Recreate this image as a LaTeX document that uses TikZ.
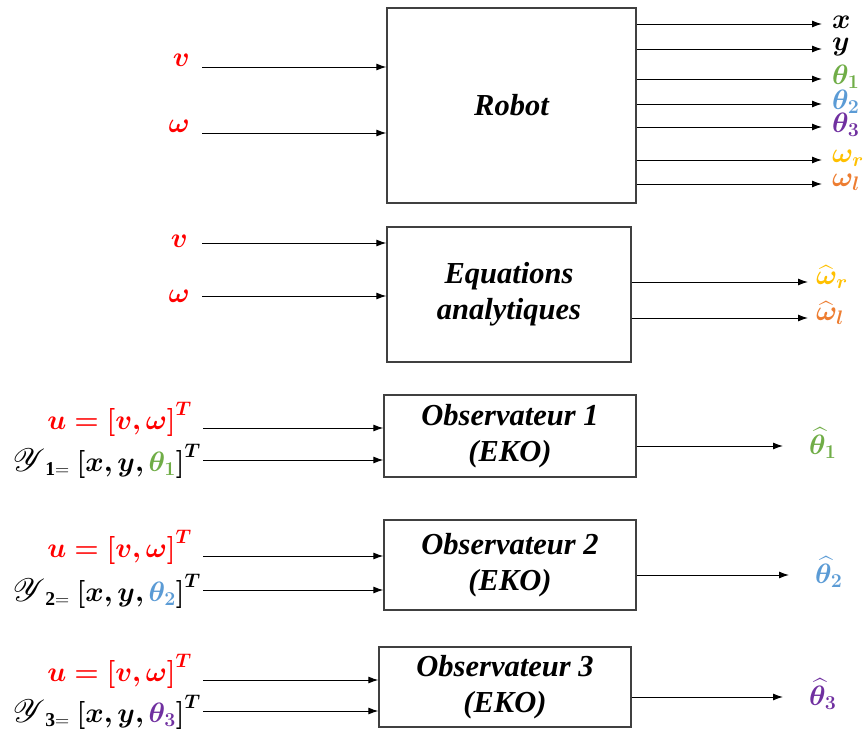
\documentclass[tikz,border=0pt]{standalone}
\usepackage{fix-cm}
\usepackage{amsmath,bm,mathrsfs}
\usepackage{fontspec}
\setmainfont{Liberation Serif}
\usetikzlibrary{arrows.meta,positioning}
\definecolor{cred}{HTML}{FF0000}
\definecolor{cgreen}{HTML}{70AD47}
\definecolor{cblue}{HTML}{5B9BD5}
\definecolor{cpurple}{HTML}{7030A0}
\definecolor{cyellow}{HTML}{FFC000}
\definecolor{corange}{HTML}{ED7D31}
\newcommand{\bigY}{\scalebox{1.3}{$\mathscr{Y}$}}

\begin{document}
\begin{tikzpicture}[x=1pt,y=-1pt,>={Latex[length=10pt,width=7pt]},
 blk/.style={draw=black!75,line width=1.3pt,align=center,inner sep=0pt,
 font=\fontsize{30.5}{36}\selectfont\bfseries\itshape},
 sig/.style={->,line width=1pt},
 lab/.style={inner sep=0pt,font=\fontsize{28}{32}\selectfont}]
\useasboundingbox (0,0) rectangle (863,736);
% blocks
\node[blk,minimum width=249pt,minimum height=195pt] (robot) at (511.5,105.5) {Robot};
\node[blk,minimum width=244pt,minimum height=135pt] (eqs) at (509,294.5) {Equations\\analytiques};
\node[blk,minimum width=252pt,minimum height=82pt] (obs1) at (510,436) {Observateur 1\\(EKO)};
\node[blk,minimum width=252pt,minimum height=90pt] (obs2) at (510,565) {Observateur 2\\(EKO)};
\node[blk,minimum width=252pt,minimum height=80pt] (obs3) at (505,687) {Observateur 3\\(EKO)};

% robot inputs
\coordinate (rv) at (202,67);
\coordinate (rw) at (202,133);
\node[lab,anchor=base east] (lrv) at ([xshift=-12pt,yshift=1pt]rv) {$\textcolor{cred}{\bm{v}}$};
\node[lab,anchor=base east] (lrw) at ([xshift=-12pt,yshift=1pt]rw) {$\textcolor{cred}{\bm{\omega}}$};
\draw[sig] (rv) -- (robot.west |- rv);
\draw[sig] (rw) -- (robot.west |- rw);
% robot outputs
\foreach \yy/\nm/\txt in {24/x/{\bm{x}},49/y/{\bm{y}},
 79/t1/{\textcolor{cgreen}{\bm{\theta_1}}},104/t2/{\textcolor{cblue}{\bm{\theta_2}}},
 127/t3/{\textcolor{cpurple}{\bm{\theta_3}}},160/wr/{\textcolor{cyellow}{\bm{\omega_r}}},
 184/wl/{\textcolor{corange}{\bm{\omega_l}}}}{
 \coordinate (o\nm) at (822,\yy);
 \draw[sig] (robot.east |- o\nm) -- (o\nm);
 \node[lab,anchor=west] (lo\nm) at ([xshift=10pt,yshift=2pt]o\nm) {$\txt$};
}

% equations
\coordinate (ev) at (202,243);
\coordinate (ew) at (202,296);
\node[lab,anchor=east] (lev) at ([xshift=-14pt,yshift=2pt]ev) {$\textcolor{cred}{\bm{v}}$};
\node[lab,anchor=east] (lew) at ([xshift=-12pt]ew) {$\textcolor{cred}{\bm{\omega}}$};
\draw[sig] (ev) -- (eqs.west |- ev);
\draw[sig] (ew) -- (eqs.west |- ew);
\coordinate (owr) at (808,282);
\coordinate (owl) at (808,318);
\draw[sig] (eqs.east |- owr) -- (owr);
\draw[sig] (eqs.east |- owl) -- (owl);
\node[lab,anchor=west] (lowr) at ([xshift=8pt,yshift=5pt]owr) {$\textcolor{cyellow}{\bm{\widehat{\omega}_r}}$};
\node[lab,anchor=west] (lowl) at ([xshift=8pt,yshift=5pt]owl) {$\textcolor{corange}{\bm{\widehat{\omega}_l}}$};

% observers
\foreach \k/\ua/\ya/\oy/\ox/\col in {1/428/460/446/783/cgreen,2/556/590/575/789/cblue,3/680/711/697/783/cpurple}{
 \coordinate (u\k) at (203,\ua);
 \coordinate (y\k) at (203,\ya);
 \coordinate (th\k) at (\ox,\oy);
 \node[lab,anchor=base east] (lu\k) at ([xshift=-11pt,yshift=-1pt]u\k)
 {$\textcolor{cred}{\bm{u=[v,\omega]^{T}}}$};
 \node[lab,anchor=base east] (ly\k) at ([xshift=-2pt,yshift=-11pt]y\k)
 {$\bigY_{\mathbf{\k=}}\ \bm{[x,y,}\textcolor{\col}{\bm{\theta_{\k}}}\bm{]^{T}}$};
 \draw[sig] (u\k) -- (obs\k.west |- u\k);
 \draw[sig] (y\k) -- (obs\k.west |- y\k);
 \draw[sig] (obs\k.east |- th\k) -- (th\k);
 \node[lab,anchor=west] (lth\k) at ([xshift=26pt,yshift=3pt]th\k)
 {$\textcolor{\col}{\bm{\widehat{\theta}_{\k}}}$};
}
\end{tikzpicture}
\end{document}
